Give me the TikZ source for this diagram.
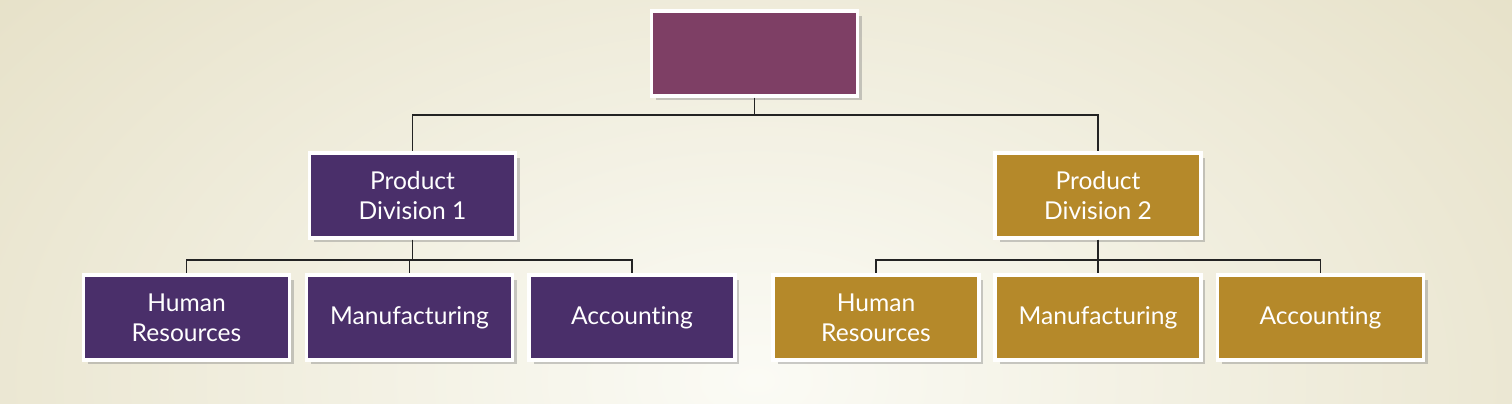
\documentclass[tikz,border=0pt]{standalone}
\usepackage{fontspec}
\setmainfont{Lato}[Ligatures=NoCommon]
\usepackage{tikz}
\usetikzlibrary{shadows}
\definecolor{plum}{RGB}{126, 63, 101}
\definecolor{grape}{RGB}{74, 47, 106}
\definecolor{ochre}{RGB}{181, 137, 42}
\definecolor{parchment}{RGB}{228, 222, 195}
\definecolor{cream}{RGB}{251, 251, 245}
\definecolor{wire}{RGB}{35, 35, 35}

\begin{document}
\begin{tikzpicture}[x=0.02cm, y=-0.02cm,
    unit/.style={draw=white, line width=2.2pt, minimum width=4.12cm, minimum height=1.70cm,
                 align=center, text=white, font=\fontsize{14}{17}\selectfont,
                 drop shadow={opacity=0.4, shadow xshift=0.09cm, shadow yshift=-0.09cm}},
    wire/.style={draw=wire, line width=1.1pt}]
    \useasboundingbox (0,0) rectangle (1512,403);
    \begin{scope}
        \clip (0,0) rectangle (1512,403);
        \fill[parchment] (0,0) rectangle (1512,403);
        \shade[inner color=cream, outer color=parchment] (756,380) ellipse (22cm and 14cm);
    \end{scope}
    % boxes
    \node[unit, fill=plum]  (head) at (754.5, 53.5) {};
    \node[unit, fill=grape] (divA) at (412.5,195.5) {Product\\Division 1};
    \node[unit, fill=ochre] (divB) at (1098, 195.5) {Product\\Division 2};
    \foreach \dept/\xx/\lbl in {hrA/186.5/{Human\\Resources}, mfA/409.5/Manufacturing, acA/632/Accounting}
        \node[unit, fill=grape] (\dept) at (\xx,317.5) {\lbl};
    \foreach \dept/\xx/\lbl in {hrB/876/{Human\\Resources}, mfB/1098/Manufacturing, acB/1320.5/Accounting}
        \node[unit, fill=ochre] (\dept) at (\xx,317.5) {\lbl};
    % lines
    \draw[wire] (head.south) -- ++(0,17) -| (divA.north);
    \draw[wire] (head.south) -- ++(0,17) -| (divB.north);
    \foreach \dept in {hrA,mfA,acA}
        \draw[wire] (divA.south) -- ++(0,20) -| (\dept.north);
    \foreach \dept in {hrB,mfB,acB}
        \draw[wire] (divB.south) -- ++(0,20) -| (\dept.north);
\end{tikzpicture}
\end{document}
